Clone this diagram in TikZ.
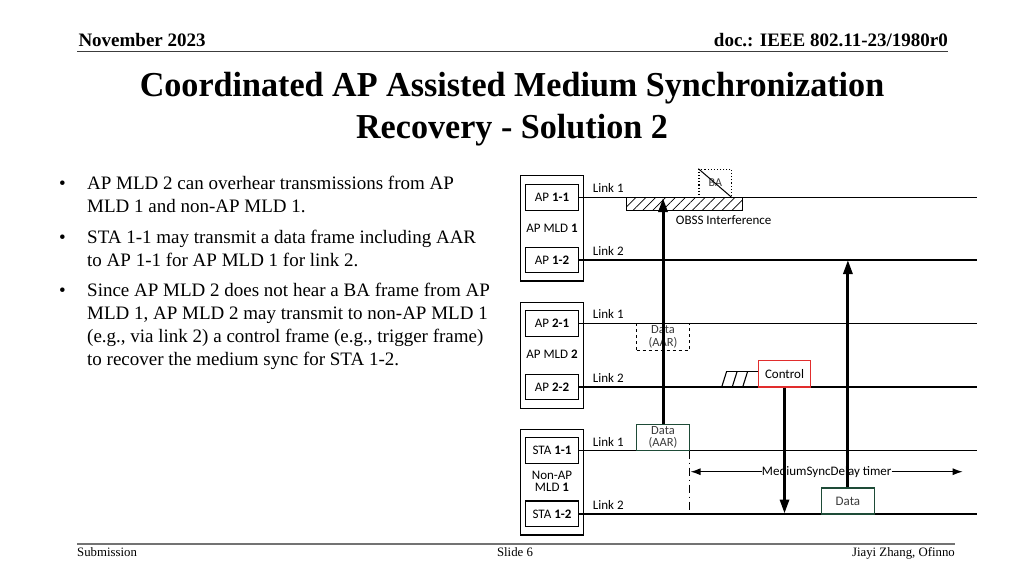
\documentclass[tikz,border=0pt]{standalone}
\usepackage{fontspec}
\setmainfont{Liberation Serif}
\newfontfamily\diagfont{Carlito}
\usetikzlibrary{patterns.meta,arrows.meta}
\definecolor{dgreen}{RGB}{30,75,55}
\definecolor{cred}{RGB}{225,45,45}
\definecolor{fgray}{RGB}{115,115,115}
\definecolor{tgray}{RGB}{60,60,60}
\begin{document}
\begin{tikzpicture}[x=1pt,y=-1pt,
  hdr/.style={font=\fontsize{19}{19}\selectfont\bfseries, inner sep=0},
  ttl/.style={font=\fontsize{35}{35}\selectfont\bfseries, inner sep=0, anchor=base},
  body/.style={font=\fontsize{19}{19}\selectfont, inner sep=0, anchor=base west},
  foot/.style={font=\fontsize{12.8}{12.8}\selectfont, inner sep=0},
  lbl/.style={font=\diagfont\fontsize{13}{13}\selectfont, inner sep=0},
  mldbox/.style={draw, line width=1.1pt, minimum width=62.3pt, minimum height=105.5pt, inner sep=0},
  devbox/.style={draw, line width=1.1pt, minimum width=52.6pt, minimum height=25.6pt, inner sep=0, font=\diagfont\fontsize{13}{13}\selectfont},
  link/.style={line width=1.1pt},
  frame/.style={minimum width=52.6pt, minimum height=26.7pt, inner sep=0, align=center, font=\diagfont\fontsize{12.5}{12.6}\selectfont},
  big/.style={line width=3pt, -{Triangle[length=14pt,width=9pt]}},
]
\useasboundingbox (0,0) rectangle (1024,576);

% header
\node[hdr, anchor=base west] (date) at (78.3,46.7) {November 2023};
\node[hdr, anchor=base east] (doc) at (948,46.7) {doc.: IEEE 802.11-23/1980r0};
\draw[line width=1.3pt, tgray] (77,51.2) -- (948,51.2);

% title
\node[ttl] (t1) at (512,96) {\scalebox{0.975}[1]{Coordinated AP Assisted Medium Synchronization}};
\node[ttl] (t2) at (512,138.5) {\scalebox{0.975}[1]{Recovery - Solution 2}};

% bullets
\foreach \y in {189,243,296} \node[body] at (59,\y) {•};
\node[body] (b1) at (87,189) {AP MLD 2 can overhear transmissions from AP};
\node[body] (b2) at (87,212) {MLD 1 and non-AP MLD 1.};
\node[body] (b3) at (87,243) {STA 1-1 may transmit a data frame including AAR};
\node[body] (b4) at (87,266) {to AP 1-1 for AP MLD 1 for link 2.};
\node[body] (b5) at (87,296) {Since AP MLD 2 does not hear a BA frame from AP};
\node[body] (b6) at (87,319) {MLD 1, AP MLD 2 may transmit to non-AP MLD 1};
\node[body] (b7) at (87,342) {(e.g., via link 2) a control frame (e.g., trigger frame)};
\node[body] (b8) at (87,365) {to recover the medium sync for STA 1-2.};

% footer
\draw[line width=2pt, fgray] (77,544) -- (955,544);
\node[foot, anchor=base west] (sub) at (77,556) {Submission};
\node[foot, anchor=base] (slide) at (515,556) {Slide 6};
\node[foot, anchor=base east] (auth) at (955,556) {Jiayi Zhang, Ofinno};

% MLD boxes
\node[mldbox] (mld1) at (551.9,228.2) {};
\node[mldbox] (mld2) at (551.9,355.5) {};
\node[mldbox] (mld3) at (551.9,482.2) {};
\node[lbl] (mld1l) at (552,228) {AP MLD \textbf{1}};
\node[lbl] (mld2l) at (552,354.3) {AP MLD \textbf{2}};
\node[lbl, align=center, font=\diagfont\fontsize{13}{12.5}\selectfont] (mld3l) at (552,481.5) {Non-AP\\MLD \textbf{1}};

\node[devbox] (ap11) at (552,197.3) {AP \textbf{1-1}};
\node[devbox] (ap12) at (552,260) {AP \textbf{1-2}};
\node[devbox] (ap21) at (552,323.6) {AP \textbf{2-1}};
\node[devbox] (ap22) at (552,387) {AP \textbf{2-2}};
\node[devbox] (sta11) at (552,450.3) {STA \textbf{1-1}};
\node[devbox] (sta12) at (552,513.8) {STA \textbf{1-2}};

% link lines
\coordinate (e11) at (977,197.3);
\coordinate (e12) at (977,260);
\coordinate (e21) at (977,323.6);
\coordinate (e22) at (977,387);
\coordinate (es11) at (977,450.7);
\coordinate (es12) at (977,514);
\draw[link] (ap11.east) -- (e11);
\draw[link] (ap12.east) -- (e12);
\draw[link] (ap21.east) -- (e21);
\draw[link] (ap22.east) -- (e22);
\draw[link] (sta11.east) |- (es11);
\draw[link] (sta12.east) |- (es12);

\node[lbl, anchor=west] (l11) at (592.7,187.5) {Link 1};
\node[lbl, anchor=west] (l12) at (592.7,250.5) {Link 2};
\node[lbl, anchor=west] (l21) at (592.7,314) {Link 1};
\node[lbl, anchor=west] (l22) at (592.7,377.8) {Link 2};
\node[lbl, anchor=west] (l31) at (592.7,441.5) {Link 1};
\node[lbl, anchor=west] (l32) at (592.7,505) {Link 2};

% OBSS interference
\draw[line width=1pt, pattern={Lines[angle=45,distance=7pt,line width=0.7pt]}] (626,197.3) rectangle (742.3,210);
\node[lbl, anchor=west] (obss) at (675.7,220) {OBSS Interference};

% BA (not heard)
\node[draw, dotted, line width=1.1pt, minimum width=32.7pt, minimum height=28pt, inner sep=0] (ba) at (715.3,183.3) {};
\node[lbl, font=\diagfont\fontsize{12}{12}\selectfont, text=tgray] (bal) at (715.3,183) {BA};
\draw[line width=1pt] (ba.north west) -- (ba.south east);

% Data (AAR) overheard by AP 2-1
\node[frame, draw, dashed, line width=1.1pt, text=tgray] (daar2) at (663,336.7) {Data\\(AAR)};

% Data (AAR) from STA 1-1
\node[frame, draw=dgreen, line width=1.1pt, text=tgray] (daar1) at (663,437.4) {Data\\(AAR)};
\coordinate (tip1) at (663,198);
\draw[big] (daar1.north) -- (tip1);

% control frame
\node[frame, draw=cred, line width=1.3pt, minimum height=26.3pt, font=\diagfont\fontsize{13}{13}\selectfont] (ctrl) at (784.5,373.9) {Control};
\draw[line width=1.1pt] (726.7,371.2) -- (ctrl.west |- 0,371.2);
\draw[line width=1.1pt] (721.7,387) -- (726.7,371.2);
\draw[line width=1.1pt] (732.2,387) -- (737.2,371.2);
\draw[line width=1.1pt] (742.7,387) -- (747.7,371.2);
\coordinate (tip3) at (784.5,513.5);
\draw[big] (ctrl.south) -- (tip3);

% data from STA 1-2
\node[frame, draw=dgreen, line width=1.1pt, minimum height=26pt, text=tgray, font=\diagfont\fontsize{13}{13}\selectfont] (d2) at (847.9,501) {Data};
\coordinate (tip2) at (847.9,260);
\draw[big] (d2.north) -- (tip2);

% MediumSyncDelay timer
\coordinate (dl1) at (689.3,450.7);
\coordinate (dl2) at (689.3,514);
\draw[line width=1.1pt, dash pattern=on 8pt off 4pt on 1pt off 4pt] (dl1) -- (dl2);
\node[lbl] (timer) at (826.7,471.7) {MediumSyncDelay timer};
\coordinate (tl) at (690.5,471.7);
\coordinate (tr) at (962.7,471.7);
\draw[line width=1.1pt, -{Latex[length=10pt,width=7pt]}] (timer.west) -- (tl);
\draw[line width=1.1pt, -{Latex[length=10pt,width=7pt]}] (timer.east) -- (tr);
\end{tikzpicture}
\end{document}
